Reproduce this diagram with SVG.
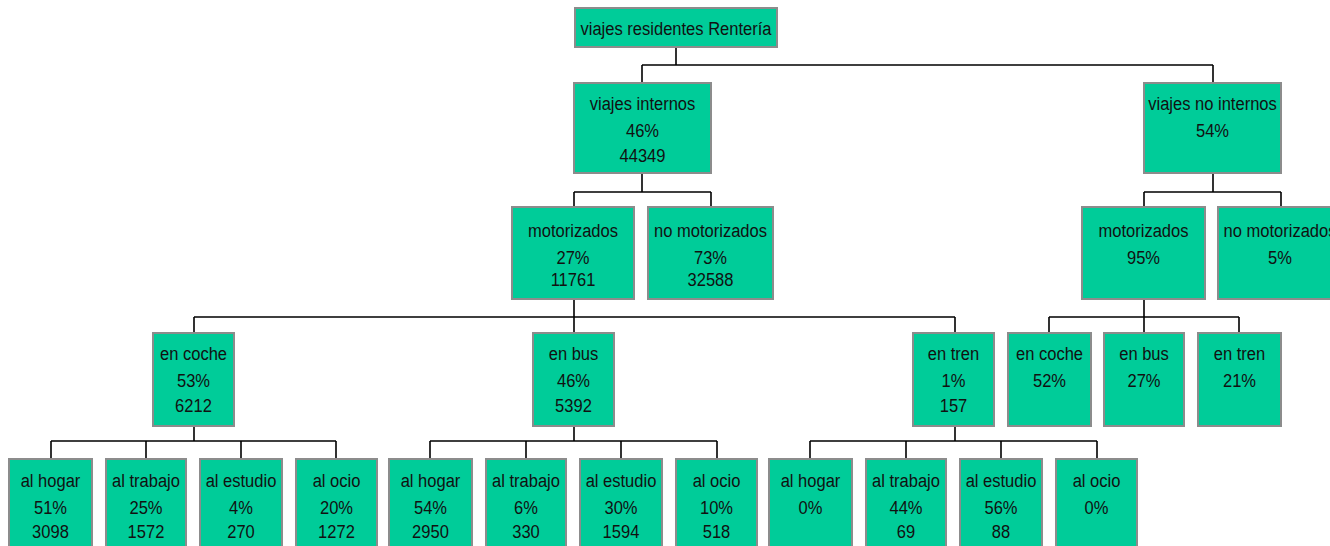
<svg xmlns="http://www.w3.org/2000/svg" width="1330" height="546" viewBox="0 0 1330 546">
<style>
.box{fill:#00CC99;stroke:#8C8C8C;stroke-width:2}
.t{font-family:"Liberation Sans",Arial,sans-serif;font-size:19px;fill:#111;text-anchor:middle}
.c{fill:none;stroke:#000;stroke-width:1.6}
</style>
<rect width="1330" height="546" fill="#fff"/>
<g id="connectors" class="c">
<path d="M676 47V65M642 65H1213M642 65V83M1213 65V83"/>
<path d="M642 173V192M574 192H711M574 192V207M711 192V207"/>
<path d="M1213 173V192M1144 192H1281M1144 192V207M1281 192V207"/>
<path d="M574 299V317M194 317H955M194 317V333M574 317V333M955 317V333"/>
<path d="M1144 299V317M1049 317H1239M1049 317V333M1144 317V333M1239 317V333"/>
<path d="M194 426V441M51 441H336M51 441V459M146 441V459M241 441V459M336 441V459"/>
<path d="M574 426V441M430 441H717M430 441V459M526 441V459M621 441V459M717 441V459"/>
<path d="M955 426V441M810 441H1097M810 441V459M906 441V459M1001 441V459M1097 441V459"/>
</g>
<g id="root"><rect class="box" x="575" y="8" width="202" height="39"/><g transform="translate(676 0) scale(0.87 1)"><text class="t" x="0" y="35">viajes residentes Rentería</text></g></g>
<g id="vi"><rect class="box" x="574" y="83" width="137" height="90"/><g transform="translate(642.5 0) scale(0.87 1)"><text class="t" x="0" y="110">viajes internos</text><text class="t" x="0" y="137">46%</text><text class="t" x="0" y="162">44349</text></g></g>
<g id="vni"><rect class="box" x="1144" y="83" width="137" height="90"/><g transform="translate(1212.5 0) scale(0.87 1)"><text class="t" x="0" y="110">viajes no internos</text><text class="t" x="0" y="137">54%</text></g></g>
<g id="m1"><rect class="box" x="512" y="207" width="122" height="92"/><g transform="translate(573 0) scale(0.87 1)"><text class="t" x="0" y="237">motorizados</text><text class="t" x="0" y="264">27%</text><text class="t" x="0" y="286">11761</text></g></g>
<g id="nm1"><rect class="box" x="648" y="207" width="125" height="92"/><g transform="translate(710.5 0) scale(0.87 1)"><text class="t" x="0" y="237">no motorizados</text><text class="t" x="0" y="264">73%</text><text class="t" x="0" y="286">32588</text></g></g>
<g id="m2"><rect class="box" x="1082" y="207" width="123" height="92"/><g transform="translate(1143.5 0) scale(0.87 1)"><text class="t" x="0" y="237">motorizados</text><text class="t" x="0" y="264">95%</text></g></g>
<g id="nm2"><rect class="box" x="1218" y="207" width="124" height="92"/><g transform="translate(1280 0) scale(0.87 1)"><text class="t" x="0" y="237">no motorizados</text><text class="t" x="0" y="264">5%</text></g></g>
<g id="coche1"><rect class="box" x="153" y="333" width="81" height="93"/><g transform="translate(193.5 0) scale(0.87 1)"><text class="t" x="0" y="360">en coche</text><text class="t" x="0" y="387">53%</text><text class="t" x="0" y="412">6212</text></g></g>
<g id="bus1"><rect class="box" x="533" y="333" width="81" height="93"/><g transform="translate(573.5 0) scale(0.87 1)"><text class="t" x="0" y="360">en bus</text><text class="t" x="0" y="387">46%</text><text class="t" x="0" y="412">5392</text></g></g>
<g id="tren1"><rect class="box" x="913" y="333" width="81" height="93"/><g transform="translate(953.5 0) scale(0.87 1)"><text class="t" x="0" y="360">en tren</text><text class="t" x="0" y="387">1%</text><text class="t" x="0" y="412">157</text></g></g>
<g id="coche2"><rect class="box" x="1008" y="333" width="83" height="93"/><g transform="translate(1049.5 0) scale(0.87 1)"><text class="t" x="0" y="360">en coche</text><text class="t" x="0" y="387">52%</text></g></g>
<g id="bus2"><rect class="box" x="1104" y="333" width="80" height="93"/><g transform="translate(1144 0) scale(0.87 1)"><text class="t" x="0" y="360">en bus</text><text class="t" x="0" y="387">27%</text></g></g>
<g id="tren2"><rect class="box" x="1198" y="333" width="83" height="93"/><g transform="translate(1239.5 0) scale(0.87 1)"><text class="t" x="0" y="360">en tren</text><text class="t" x="0" y="387">21%</text></g></g>
<g id="c_hogar"><rect class="box" x="9" y="459" width="83" height="93"/><g transform="translate(50.5 0) scale(0.87 1)"><text class="t" x="0" y="487">al hogar</text><text class="t" x="0" y="514">51%</text><text class="t" x="0" y="538">3098</text></g></g>
<g id="c_trabajo"><rect class="box" x="106" y="459" width="80" height="93"/><g transform="translate(146 0) scale(0.87 1)"><text class="t" x="0" y="487">al trabajo</text><text class="t" x="0" y="514">25%</text><text class="t" x="0" y="538">1572</text></g></g>
<g id="c_estudio"><rect class="box" x="200" y="459" width="82" height="93"/><g transform="translate(241 0) scale(0.87 1)"><text class="t" x="0" y="487">al estudio</text><text class="t" x="0" y="514">4%</text><text class="t" x="0" y="538">270</text></g></g>
<g id="c_ocio"><rect class="box" x="296" y="459" width="81" height="93"/><g transform="translate(336.5 0) scale(0.87 1)"><text class="t" x="0" y="487">al ocio</text><text class="t" x="0" y="514">20%</text><text class="t" x="0" y="538">1272</text></g></g>
<g id="b_hogar"><rect class="box" x="389" y="459" width="83" height="93"/><g transform="translate(430.5 0) scale(0.87 1)"><text class="t" x="0" y="487">al hogar</text><text class="t" x="0" y="514">54%</text><text class="t" x="0" y="538">2950</text></g></g>
<g id="b_trabajo"><rect class="box" x="486" y="459" width="80" height="93"/><g transform="translate(526 0) scale(0.87 1)"><text class="t" x="0" y="487">al trabajo</text><text class="t" x="0" y="514">6%</text><text class="t" x="0" y="538">330</text></g></g>
<g id="b_estudio"><rect class="box" x="580" y="459" width="82" height="93"/><g transform="translate(621 0) scale(0.87 1)"><text class="t" x="0" y="487">al estudio</text><text class="t" x="0" y="514">30%</text><text class="t" x="0" y="538">1594</text></g></g>
<g id="b_ocio"><rect class="box" x="676" y="459" width="81" height="93"/><g transform="translate(716.5 0) scale(0.87 1)"><text class="t" x="0" y="487">al ocio</text><text class="t" x="0" y="514">10%</text><text class="t" x="0" y="538">518</text></g></g>
<g id="t_hogar"><rect class="box" x="769" y="459" width="83" height="93"/><g transform="translate(810.5 0) scale(0.87 1)"><text class="t" x="0" y="487">al hogar</text><text class="t" x="0" y="514">0%</text></g></g>
<g id="t_trabajo"><rect class="box" x="866" y="459" width="80" height="93"/><g transform="translate(906 0) scale(0.87 1)"><text class="t" x="0" y="487">al trabajo</text><text class="t" x="0" y="514">44%</text><text class="t" x="0" y="538">69</text></g></g>
<g id="t_estudio"><rect class="box" x="960" y="459" width="82" height="93"/><g transform="translate(1001 0) scale(0.87 1)"><text class="t" x="0" y="487">al estudio</text><text class="t" x="0" y="514">56%</text><text class="t" x="0" y="538">88</text></g></g>
<g id="t_ocio"><rect class="box" x="1056" y="459" width="81" height="93"/><g transform="translate(1096.5 0) scale(0.87 1)"><text class="t" x="0" y="487">al ocio</text><text class="t" x="0" y="514">0%</text></g></g>
</svg>
